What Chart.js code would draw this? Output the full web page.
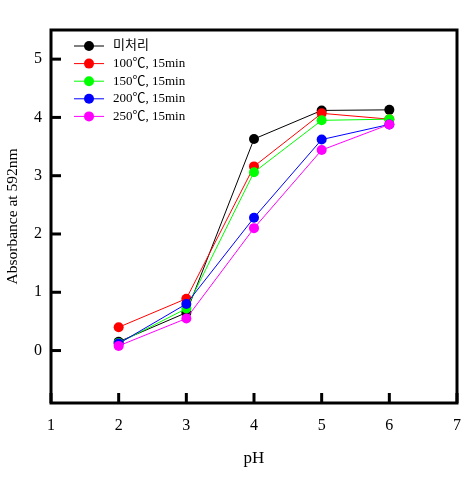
<!DOCTYPE html>
<html>
<head>
<meta charset="utf-8">
<script src="https://cdn.jsdelivr.net/npm/chart.js@4/dist/chart.umd.min.js"></script>
<style>
  html, body { margin: 0; padding: 0; background: #fff; }
  #wrap { width: 474px; height: 490px; }
</style>
</head>
<body>
<div id="wrap"><canvas id="chart" width="474" height="490"></canvas></div>
<script>
  /* Data */
  const phValues = [2, 3, 4, 5, 6];
  const seriesLabels = ['미처리', '100℃, 15min', '150℃, 15min', '200℃, 15min', '250℃, 15min'];
  const seriesColors = ['#000000', '#ff0000', '#00ff00', '#0000ff', '#ff00ff'];
  const untreated = [0.15, 0.65, 3.63, 4.12, 4.13];
  const t100 = [0.40, 0.89, 3.16, 4.07, 3.97];
  const t150 = [0.13, 0.72, 3.06, 3.95, 3.97];
  const t200 = [0.12, 0.80, 2.28, 3.62, 3.88];
  const t250 = [0.08, 0.55, 2.10, 3.44, 3.88];
  const xTicks = [1, 2, 3, 4, 5, 6, 7];
  const yTicks = [0, 1, 2, 3, 4, 5];

  const allSeries = [untreated, t100, t150, t200, t250];

  const font = 'Liberation Serif';

  // later series are painted over earlier ones, as in the source figure
  const datasets = allSeries.map((values, i) => ({
    label: seriesLabels[i],
    data: phValues.map((x, j) => ({ x, y: values[j] })),
    order: allSeries.length - i,
    borderColor: seriesColors[i],
    backgroundColor: seriesColors[i],
    borderWidth: 1,
    pointRadius: 5,
    pointHoverRadius: 5,
    pointBorderWidth: 0,
  }));

  // frame, inward ticks and the inset legend
  const framePlugin = {
    id: 'frame',
    afterDatasetsDraw(chart) {
      const { ctx, chartArea: a, scales } = chart;
      ctx.save();
      ctx.strokeStyle = '#000';
      ctx.lineWidth = 3;
      ctx.strokeRect(a.left, a.top, a.right - a.left, a.bottom - a.top);

      xTicks.forEach((v) => {
        const px = scales.x.getPixelForValue(v);
        ctx.beginPath();
        ctx.moveTo(px, a.bottom);
        ctx.lineTo(px, a.bottom - 10);
        ctx.stroke();
      });
      yTicks.forEach((v) => {
        const py = scales.y.getPixelForValue(v);
        ctx.beginPath();
        ctx.moveTo(a.left, py);
        ctx.lineTo(a.left + 10, py);
        ctx.stroke();
      });

      // legend
      const lx = a.left + 23;
      let ly = a.top + 16;
      ctx.font = '13px "' + font + '", "Noto Sans CJK KR", serif';
      ctx.textBaseline = 'middle';
      seriesLabels.forEach((label, i) => {
        ctx.strokeStyle = seriesColors[i];
        ctx.fillStyle = seriesColors[i];
        ctx.lineWidth = 1;
        ctx.beginPath();
        ctx.moveTo(lx, ly);
        ctx.lineTo(lx + 30, ly);
        ctx.stroke();
        ctx.beginPath();
        ctx.arc(lx + 15, ly, 5, 0, Math.PI * 2);
        ctx.fill();
        ctx.fillStyle = '#000';
        ctx.fillText(label, lx + 39, ly);
        ly += 17.6;
      });
      ctx.restore();
    },
  };

  const init = () => {
    new Chart(document.getElementById('chart'), {
      type: 'line',
      data: { datasets },
      options: {
        responsive: false,
        animation: false,
        layout: { padding: { top: 30, right: 17, left: 0, bottom: 0 } },
        plugins: { legend: { display: false }, tooltip: { enabled: false } },
        scales: {
          x: {
            type: 'linear',
            min: 1,
            max: 7,
            afterBuildTicks: (scale) => { scale.ticks = xTicks.map((v) => ({ value: v })); },
            afterFit: (scale) => { scale.height = 87; },
            grid: { display: false, drawTicks: false },
            border: { display: false },
            ticks: { color: '#000', padding: 13, font: { family: font, size: 16 } },
            title: { display: true, text: 'pH', color: '#000', padding: { top: 0, bottom: 21 }, font: { family: font, size: 17 } },
          },
          y: {
            type: 'linear',
            min: -0.9,
            max: 5.5,
            afterBuildTicks: (scale) => { scale.ticks = yTicks.map((v) => ({ value: v })); },
            afterFit: (scale) => { scale.width = 51; },
            grid: { display: false, drawTicks: false },
            border: { display: false },
            ticks: { color: '#000', padding: 9, font: { family: font, size: 16 } },
            title: { display: true, text: 'Absorbance at 592nm', color: '#000', padding: { bottom: 0, top: 4 }, font: { family: font, size: 15.5 } },
          },
        },
      },
      plugins: [framePlugin],
    });
  };

  init();
</script>
</body>
</html>
